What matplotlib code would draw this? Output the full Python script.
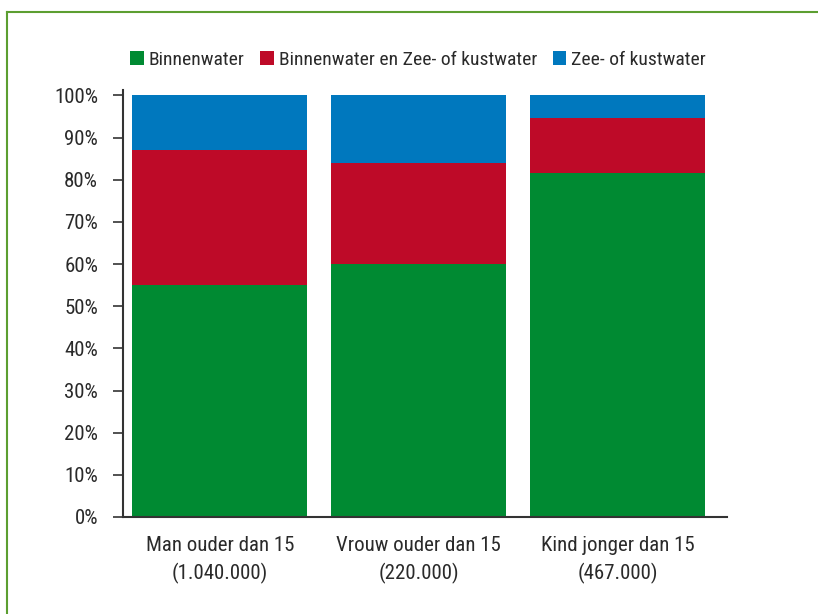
import matplotlib.pyplot as plt
from matplotlib.lines import Line2D

plt.rcParams['font.family'] = ['Roboto Condensed', 'DejaVu Sans']

# aandeel per groep (%)
groepen = ['Man ouder dan 15\n(1.040.000)', 'Vrouw ouder dan 15\n(220.000)', 'Kind jonger dan 15\n(467.000)']
binnenwater = [55.0, 60.0, 81.5]
binnen_en_zee = [32.0, 24.0, 13.2]
zee_kust = [13.0, 16.0, 5.3]

series = ['Binnenwater', 'Binnenwater en Zee- of kustwater', 'Zee- of kustwater']
kleuren = ['#008A32', '#BE0A28', '#0078BE']

fig = plt.figure(figsize=(8.18, 6.14), dpi=100)
ax = fig.add_axes([123 / 818, 97 / 614, 604 / 818, 427 / 614])

x = range(len(groepen))
onder = [0] * len(groepen)
for naam, vals, kl in zip(series, [binnenwater, binnen_en_zee, zee_kust], kleuren):
    ax.bar(x, vals, width=0.88, bottom=onder, color=kl, label=naam)
    onder = [o + v for o, v in zip(onder, vals)]

ax.set_xlim(-0.487, 2.55)
ax.set_ylim(0, 101.3)
ax.set_yticks(range(0, 101, 10))
ax.set_yticklabels([f'{t}%' for t in range(0, 101, 10)], fontsize=15, color='#2a2a2a')
ax.set_xticks(list(x))
ax.set_xticklabels(groepen, fontsize=15, color='#2a2a2a', linespacing=1.45)
ax.tick_params(axis='x', length=0, pad=14)
ax.tick_params(axis='y', length=7, width=1.2, color='#333333', pad=11)

for s in ['top', 'right']:
    ax.spines[s].set_visible(False)
for s in ['left', 'bottom']:
    ax.spines[s].set_color('#333333')
    ax.spines[s].set_linewidth(1.5)

fig.legend(loc='center', bbox_to_anchor=(418 / 818, 1 - 60 / 614), ncol=3, frameon=False,
           fontsize=14, handlelength=0.7, handleheight=0.7, handletextpad=0.25,
           columnspacing=0.8, labelcolor='#2a2a2a')

# groene kader
rand = '#5C9E31'
fig.add_artist(Line2D([7 / 818, 7 / 818], [0, 1 - 12 / 614], color=rand, lw=1.5))
fig.add_artist(Line2D([7 / 818, 1], [1 - 12 / 614, 1 - 12 / 614], color=rand, lw=1.5))

fig.savefig('out.png', dpi=100)
